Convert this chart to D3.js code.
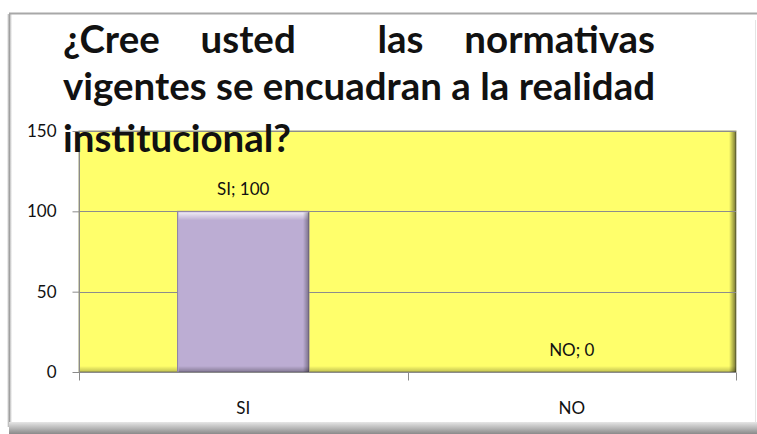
<!DOCTYPE html>
<html lang="es">
<head>
<meta charset="UTF-8">
<title>¿Cree usted las normativas vigentes se encuadran a la realidad institucional?</title>
<script src="https://d3js.org/d3.v7.min.js"></script>
<style>
  body { margin: 0; background: #ffffff; }
  svg { display: block; }
  .lbl { font-family: Lato, "Open Sans", sans-serif; fill: #111; }
</style>
</head>
<body>
<svg id="chart" width="757" height="434"></svg>
<script>
// chart data
const categories = ["SI", "NO"];
const values = [100, 0];
const yTicks = [0, 50, 100, 150];
// two spaces before "las" as in the original title
const titleLines = [
  "¿Cree usted  las normativas",
  "vigentes se encuadran a la realidad",
  "institucional?"
];

const svg = d3.select("#chart");
const W = 757, H = 434;
const plot = { left: 79, right: 736, top: 131, bottom: 372 };

const defs = svg.append("defs");
function grad(id, x2, y2, stops) {
  const g = defs.append("linearGradient").attr("id", id)
    .attr("x1", 0).attr("y1", 0).attr("x2", x2).attr("y2", y2);
  stops.forEach(s => g.append("stop").attr("offset", s[0]).attr("stop-color", s[1]).attr("stop-opacity", s[2]));
}
grad("shLeft", 1, 0, [[0, "#fff", 1], [0.4, "#9a9a9a", 1], [1, "#fff", 0]]);
grad("shBottom", 0, 1, [[0, "#e6e6e6", 1], [1, "#8a8a8a", 1]]);
grad("hiTop", 0, 1, [[0, "#ffffff", 0.75], [1, "#ffffff", 0]]);
grad("dkRight", 1, 0, [[0, "#000", 0], [1, "#000", 0.35]]);
grad("dkBottom", 0, 1, [[0, "#000", 0], [1, "#000", 0.3]]);
grad("plotRight", 1, 0, [[0, "#000", 0], [1, "#000", 0.55]]);
grad("plotBottom", 0, 1, [[0, "#000", 0], [1, "#000", 0.25]]);

// outer frame + shadow
svg.append("rect").attr("x", 7).attr("y", 14).attr("width", 6).attr("height", 413).attr("fill", "url(#shLeft)");
svg.append("rect").attr("x", 9).attr("y", 422).attr("width", W - 9).attr("height", 12).attr("fill", "url(#shBottom)");
svg.append("rect").attr("x", 12).attr("y", 14).attr("width", W - 13).attr("height", 408).attr("fill", "#ffffff");
svg.append("line").attr("x1", 9).attr("x2", W).attr("y1", 13.5).attr("y2", 13.5).attr("stroke", "#a8a8a8").attr("stroke-width", 2);
svg.append("line").attr("x1", 755.5).attr("x2", 755.5).attr("y1", 20).attr("y2", 422).attr("stroke", "#e4e4e4");

// scales
const y = d3.scaleLinear().domain([0, 150]).range([plot.bottom, plot.top]);
const x = d3.scaleBand().domain(categories).range([plot.left, plot.right])
  .paddingInner(0.6).paddingOuter(0.3);
const xCat = d3.scaleBand().domain(categories).range([plot.left, plot.right]);

// plot area
svg.append("rect").attr("x", plot.left).attr("y", plot.top)
  .attr("width", plot.right - plot.left).attr("height", plot.bottom - plot.top)
  .attr("fill", "#ffff6b").attr("stroke", "#a0a070");
svg.append("rect").attr("x", plot.right - 7).attr("y", plot.top)
  .attr("width", 7).attr("height", plot.bottom - plot.top).attr("fill", "url(#plotRight)");
svg.append("rect").attr("x", plot.left).attr("y", plot.bottom - 6)
  .attr("width", plot.right - plot.left).attr("height", 6).attr("fill", "url(#plotBottom)");

// gridlines
svg.append("g").selectAll("line").data(yTicks.filter(d => d > 0)).join("line")
  .attr("x1", plot.left).attr("x2", plot.right)
  .attr("y1", d => Math.round(y(d)) + 0.5).attr("y2", d => Math.round(y(d)) + 0.5)
  .attr("stroke", "#8c8c8c");

// bars
const bars = svg.append("g").selectAll("g").data(categories.map((c, i) => ({ c, v: values[i] })))
  .join("g").filter(d => d.v > 0);
bars.append("rect").attr("x", d => x(d.c)).attr("y", d => y(d.v))
  .attr("width", x.bandwidth()).attr("height", d => y(0) - y(d.v))
  .attr("fill", "#bcadd3").attr("stroke", "#8e82a3");
bars.append("rect").attr("x", d => x(d.c) + 1).attr("y", d => y(d.v) + 1)
  .attr("width", x.bandwidth() - 2).attr("height", 8).attr("fill", "url(#hiTop)");
bars.append("rect").attr("x", d => x(d.c) + x.bandwidth() - 6).attr("y", d => y(d.v) + 1)
  .attr("width", 6).attr("height", d => y(0) - y(d.v) - 1).attr("fill", "url(#dkRight)");
bars.append("rect").attr("x", d => x(d.c) + 1).attr("y", d => y(0) - 6)
  .attr("width", x.bandwidth() - 1).attr("height", 6).attr("fill", "url(#dkBottom)");

// axes
const yAxis = svg.append("g").attr("transform", `translate(${plot.left + 0.5},0)`)
  .call(d3.axisLeft(y).tickValues(yTicks).tickSize(7).tickPadding(16));
yAxis.select(".domain").attr("d", `M0,${plot.top}V${plot.bottom + 8}`);
const xAxis = svg.append("g").attr("transform", `translate(0,${plot.bottom + 0.5})`)
  .call(d3.axisBottom(xCat).tickSize(0).tickPadding(29));
xAxis.select(".domain").attr("d", `M${plot.left},0H${plot.right}`);
xAxis.selectAll(".bnd").data([plot.left, xCat("NO"), plot.right]).join("line").attr("class", "bnd")
  .attr("x1", d => Math.round(d) + 0.5).attr("x2", d => Math.round(d) + 0.5)
  .attr("y1", 0).attr("y2", 8);
[yAxis, xAxis].forEach(a => {
  a.selectAll(".domain, line").attr("stroke", "#8a8a8a");
  a.selectAll("text").attr("class", "lbl").style("font-size", "17px").attr("fill", "#111");
});

// data labels
svg.append("g").selectAll("text").data(categories.map((c, i) => ({ c, v: values[i] }))).join("text")
  .attr("class", "lbl").style("font-size", "17px")
  .attr("x", d => x(d.c) + x.bandwidth() / 2).attr("y", d => y(d.v) - 16)
  .attr("text-anchor", "middle").text(d => `${d.c}; ${d.v}`);

// title, justified block
const tX = 63, tW = 592, baselines = [53, 100, 152];
const title = svg.append("g").attr("class", "lbl").style("font-size", "30px").style("font-weight", "bold");
const probe = title.append("text").text(titleLines[1]);
const fs = 30 * tW / probe.node().getComputedTextLength();
probe.remove();
title.style("font-size", fs + "px");
titleLines.forEach((line, i) => {
  const words = line.split(" ");
  const texts = words.map(w => title.append("text").attr("y", baselines[i]).text(w));
  const widths = texts.map(t => t.node().getComputedTextLength());
  const gap = i < 2 ? (tW - d3.sum(widths)) / (words.length - 1) : fs * 0.22;
  let cx = tX;
  texts.forEach((t, j) => { t.attr("x", cx); cx += widths[j] + gap; });
});
</script>
</body>
</html>
